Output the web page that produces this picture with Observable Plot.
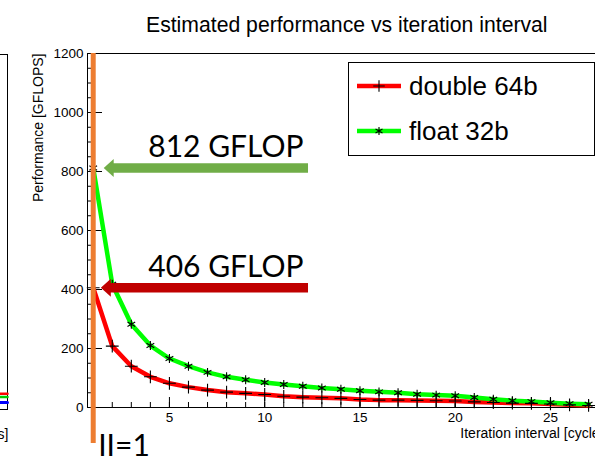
<!DOCTYPE html>
<html><head><meta charset="utf-8">
<script src="https://cdn.jsdelivr.net/npm/d3@7"></script>
<script src="https://cdn.jsdelivr.net/npm/@observablehq/plot@0.6"></script>
<style>
html,body{margin:0;padding:0;background:#fff;overflow:hidden;}
#wrap{position:relative;width:595px;height:469px;overflow:hidden;background:#fff;font-family:"Liberation Sans",Arial,Helvetica,sans-serif;}
#left{position:absolute;left:-292px;top:0;}
#main{position:absolute;left:0;top:0;}
#title{position:absolute;left:146px;top:14px;font-size:21.2px;line-height:21px;white-space:nowrap;color:#000;}
#legend{position:absolute;left:348px;top:62px;width:247px;height:94px;box-sizing:border-box;border:1px solid #000;background:#fff;}
#legend .lab{position:absolute;left:60px;font-size:26px;line-height:26px;white-space:nowrap;color:#000;}
#legend svg{position:absolute;left:0;top:0;}
</style></head><body>
<div id="wrap">
  <div id="left"></div>
  <div id="main"></div>
  <div id="title">Estimated performance vs iteration interval</div>
  <div id="legend"></div>
</div>
<script>
// ---- data ----
const iterations = [1,2,3,4,5,6,7,8,9,10,11,12,13,14,15,16,17,18,19,20,21,22,23,24,25,26,27];
const double64 = [406,208,140,104,82,69,59,52,48,44,38,35,33,31,27,25,25,24,23,22,19,17,15,14,12,9,7];
const float32  = [812,418,282,210,166,140,119,104,94,85,78,72,66,62,57,53,50,45,42,40,34,28,23,20,16,13,11];
const seriesNames = ["double 64b", "float 32b"];
const seriesColors = ["#ff0000", "#00ff00"];
const seriesSymbols = ["plus", "asterisk"];
const yMajorTicks = [0, 200, 400, 600, 800, 1000, 1200];
const xMajorTicks = [5, 10, 15, 20, 25];
const peakLabels = ["812 GFLOP", "406 GFLOP"];
const peakValues = [812, 406];
const peakColors = ["#70ad47", "#c00000"];
const arrowTipX = [1.55, 1.4];
const arrowTailX = [12.3, 12.3];
const markerII = [1];
const markerIILabel = ["II=1"];
// remnant of the neighbouring chart on the left edge
const leftX = [9, 10];
const leftRed = [53, 53];
const leftGreen = [42, 42];
const leftBlue = [24, 24];

const rows = iterations.map((x, i) => ({x, d: double64[i], f: float32[i]}));
const peaks = peakLabels.map((label, i) => ({label, value: peakValues[i], color: peakColors[i], tip: arrowTipX[i], tail: arrowTailX[i]}));
const iiRows = markerII.map((x, i) => ({x, label: markerIILabel[i]}));

const arrowHead = {draw(ctx) { ctx.moveTo(0, 0); ctx.lineTo(10, -9); ctx.lineTo(10, 9); ctx.closePath(); }};

const baseStyle = {fontFamily: "Liberation Sans, Arial, Helvetica, sans-serif", fontSize: "13.5px", background: "transparent", maxWidth: "none", overflow: "visible", color: "black"};

const main = Plot.plot({
  width: 640, height: 469,
  marginTop: 53, marginBottom: 62, marginLeft: 87, marginRight: 30,
  x: {domain: [0.7, 28.15]},
  y: {domain: [0, 1200]},
  color: {type: "identity"},
  style: baseStyle,
  marks: [
    Plot.frame({stroke: "black"}),
    Plot.axisY({ticks: yMajorTicks, tickFormat: d => String(d), tickSize: 0, tickPadding: 4, label: null}),
    Plot.axisY({ticks: yMajorTicks, tickSize: -15, fill: "none", label: null}),
    Plot.axisY({ticks: d3.range(0, 1201, 50), tickSize: -5, fill: "none", label: null}),
    Plot.axisX({ticks: xMajorTicks, tickFormat: d => String(d), tickSize: 0, tickPadding: 5, label: null}),
    Plot.axisX({ticks: xMajorTicks, tickSize: -10, fill: "none", label: null}),
    Plot.axisX({ticks: d3.range(1, 29), tickSize: -5, fill: "none", label: null}),
    Plot.text(["Performance [GFLOPS]"], {frameAnchor: "top-left", rotate: -90, textAnchor: "end", dx: -54, fontSize: 14}),
    Plot.text(["Iteration interval [cycles]"], {frameAnchor: "bottom-right", textAnchor: "end", lineAnchor: "bottom", dy: 30, fontSize: 14}),
    Plot.line(rows, {x: "x", y: "d", stroke: seriesColors[0], strokeWidth: 4.5}),
    Plot.line(rows, {x: "x", y: "f", stroke: seriesColors[1], strokeWidth: 4.5}),
    Plot.dot(rows, {x: "x", y: "d", symbol: seriesSymbols[0], r: 4.2, stroke: "black", strokeWidth: 1.1}),
    Plot.dot(rows, {x: "x", y: "f", symbol: seriesSymbols[1], r: 4.2, stroke: "black", strokeWidth: 1.1}),
    Plot.ruleX(markerII, {stroke: "#ed7d31", strokeWidth: 5, insetBottom: -36}),
    Plot.ruleY(peaks, {y: "value", x1: "tip", x2: "tail", stroke: "color", strokeWidth: 9.5, insetLeft: 9}),
    Plot.dot(peaks, {x: "tip", y: "value", symbol: arrowHead, fill: "color", stroke: "none", r: 3}),
    Plot.text(peaks, {x: "tail", y: "value", text: "label", textAnchor: "end", lineAnchor: "bottom", dx: -5, dy: -11, fontSize: 30, fontFamily: "Lato, 'Open Sans', sans-serif", fill: "black", ariaLabel: "peaklabels"}),
    Plot.text(iiRows, {x: "x", text: "label", frameAnchor: "bottom", textAnchor: "start", lineAnchor: "bottom", dx: 5, dy: 48, fontSize: 30, fontFamily: "Lato, 'Open Sans', sans-serif", fill: "black", ariaLabel: "iilabel"})
  ]
});
document.getElementById("main").appendChild(main);
d3.select(main).selectAll('g[aria-label="peaklabels"] text').attr("textLength", 160).attr("lengthAdjust", "spacingAndGlyphs");
d3.select(main).selectAll('g[aria-label="iilabel"] text').attr("textLength", 53).attr("lengthAdjust", "spacingAndGlyphs");

const leftRows = leftX.map((x, i) => ({x, r: leftRed[i], g: leftGreen[i], b: leftBlue[i]}));
const left = Plot.plot({
  width: 300, height: 469,
  marginTop: 54, marginBottom: 60, marginLeft: 40, marginRight: 1,
  x: {domain: [0, 10], axis: null},
  y: {domain: [0, 1200], axis: null},
  style: baseStyle,
  marks: [
    Plot.frame({stroke: "black"}),
    Plot.line(leftRows, {x: "x", y: "r", stroke: "#ff0000", strokeWidth: 2.5}),
    Plot.line(leftRows, {x: "x", y: "g", stroke: "#00cc00", strokeWidth: 2.5}),
    Plot.line(leftRows, {x: "x", y: "b", stroke: "#0000ff", strokeWidth: 3}),
    Plot.text(["Iteration interval [cycles]"], {frameAnchor: "bottom-right", textAnchor: "end", lineAnchor: "bottom", dy: 29, dx: 1, fontSize: 14})
  ]
});
document.getElementById("left").appendChild(left);

// legend
const legend = d3.select("#legend");
const sw = legend.append("svg").attr("width", 60).attr("height", 92);
const rowsY = [23, 68];
seriesNames.forEach((name, i) => {
  const y = rowsY[i];
  sw.append("line").attr("x1", 8).attr("x2", 52).attr("y1", y).attr("y2", y)
    .attr("stroke", seriesColors[i]).attr("stroke-width", 4.5);
  const sym = i === 0 ? d3.symbolPlus : d3.symbolAsterisk;
  sw.append("path").attr("d", d3.symbol(sym, 45)()).attr("transform", `translate(30,${y})`)
    .attr("fill", "none").attr("stroke", "black").attr("stroke-width", 1.1);
  legend.append("div").attr("class", "lab").style("top", (i === 0 ? 10 : 55) + "px").text(name);
});
</script>
</body></html>
